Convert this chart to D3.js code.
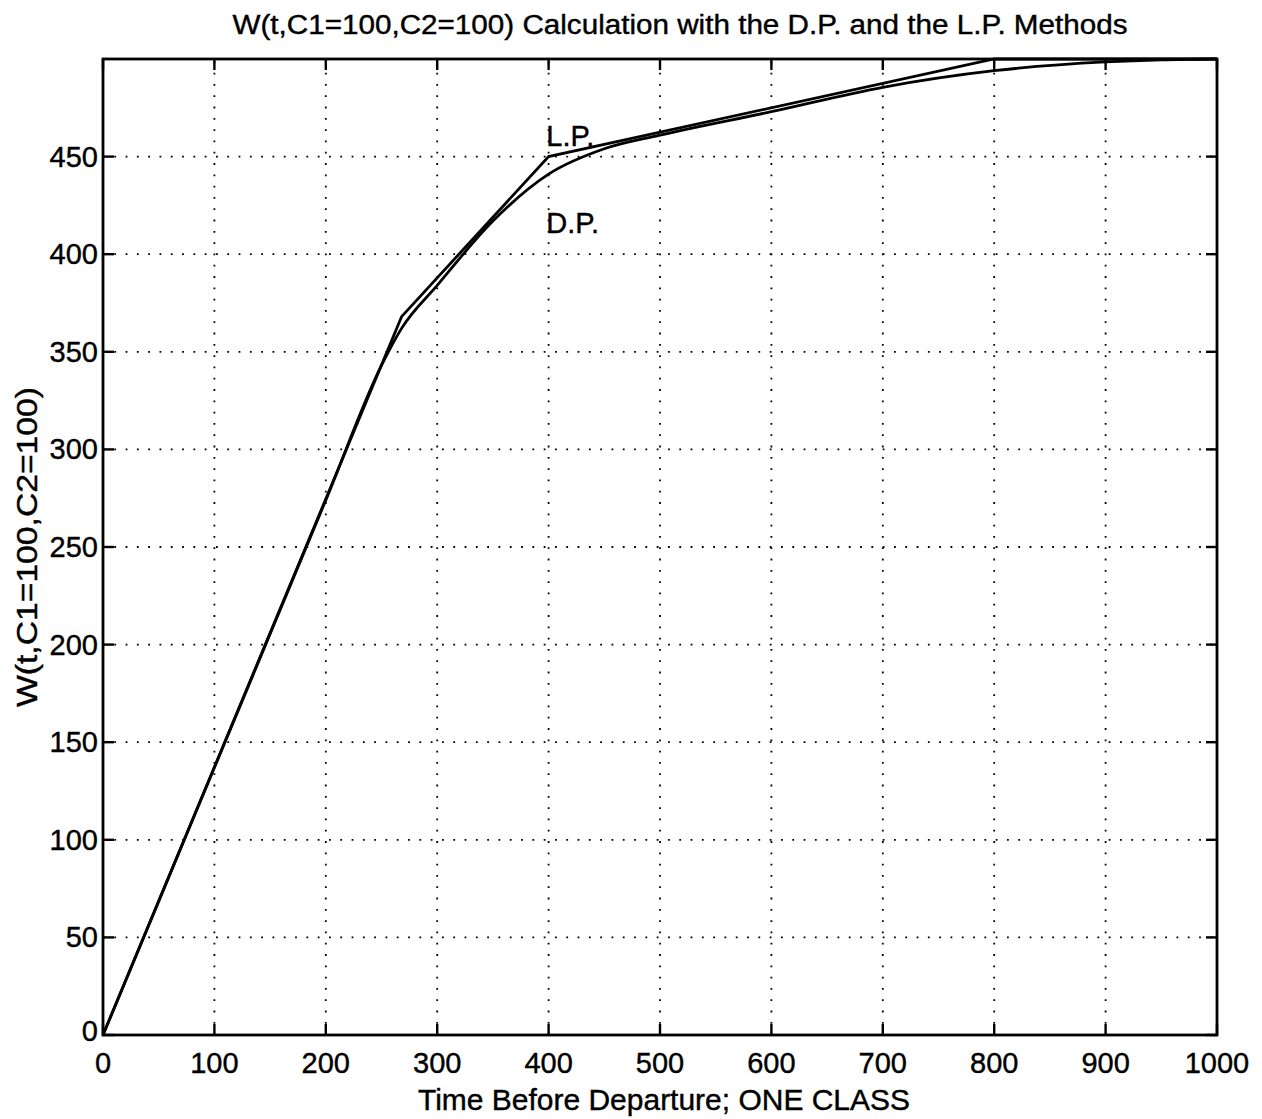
<!DOCTYPE html>
<html>
<head>
<meta charset="utf-8">
<script src="https://cdn.jsdelivr.net/npm/d3@7"></script>
<style>
  body { margin: 0; background: #fff; }
  svg { font-family: "Liberation Sans", Arial, Helvetica, sans-serif; }
  text { fill: #000; stroke: #000; stroke-width: 0.4px; }
</style>
</head>
<body>
<div id="chart"></div>
<script>
// L.P. method: piecewise linear
const lpT = [0, 268, 400, 800, 1000];
const lpW = [0, 368, 450, 500, 500];

// D.P. method: smooth curve
const dpT = [0, 100, 200, 250, 268, 300, 350, 400, 450, 500, 600, 700, 800, 900, 950, 1000];
const dpW = [0, 137, 274, 343, 362, 384, 417, 441, 454, 461, 473, 485.5, 494, 498.5, 499.6, 500];

const xTicks = [0, 100, 200, 300, 400, 500, 600, 700, 800, 900, 1000];
const yTicks = [0, 50, 100, 150, 200, 250, 300, 350, 400, 450];

const width = 1262, height = 1119;
const margin = { top: 59, right: 45, bottom: 84, left: 103 };

const svg = d3.select("#chart").append("svg")
  .attr("width", width)
  .attr("height", height);

const x = d3.scaleLinear().domain([0, 1000]).range([margin.left, width - margin.right]);
const y = d3.scaleLinear().domain([0, 500]).range([height - margin.bottom, margin.top]);

// grid
const grid = svg.append("g")
  .attr("stroke", "#000")
  .attr("stroke-width", 1.8)
  .attr("stroke-dasharray", "1.8,9.5");

grid.selectAll(".gx").data(xTicks.filter(d => d > 0 && d < 1000)).join("line")
  .attr("x1", d => x(d)).attr("x2", d => x(d))
  .attr("y1", y(0)).attr("y2", y(500));

grid.selectAll(".gy").data(yTicks.filter(d => d > 0)).join("line")
  .attr("y1", d => y(d)).attr("y2", d => y(d))
  .attr("x1", x(0)).attr("x2", x(1000));

// inward ticks on all four sides
const tickLen = 11;
const ticks = svg.append("g").attr("stroke", "#000").attr("stroke-width", 2.4);
xTicks.forEach(d => {
  ticks.append("line").attr("x1", x(d)).attr("x2", x(d)).attr("y1", y(0)).attr("y2", y(0) - tickLen);
  ticks.append("line").attr("x1", x(d)).attr("x2", x(d)).attr("y1", y(500)).attr("y2", y(500) + tickLen);
});
yTicks.forEach(d => {
  ticks.append("line").attr("y1", y(d)).attr("y2", y(d)).attr("x1", x(0)).attr("x2", x(0) + tickLen);
  ticks.append("line").attr("y1", y(d)).attr("y2", y(d)).attr("x1", x(1000)).attr("x2", x(1000) - tickLen);
});

// tick labels
svg.append("g").selectAll("text").data(xTicks).join("text")
  .attr("x", d => x(d))
  .attr("y", y(0) + 38)
  .attr("text-anchor", "middle")
  .attr("font-size", "29px")
  .text(d => d);

svg.append("g").selectAll("text").data(yTicks).join("text")
  .attr("x", x(0) - 5)
  .attr("y", d => y(d) + 10 - (d === 0 ? 4 : 0))
  .attr("text-anchor", "end")
  .attr("font-size", "29px")
  .text(d => d);

// curves
const line = d3.line().x(d => x(d[0])).y(d => y(d[1]));
const dpLine = d3.line().x(d => x(d[0])).y(d => y(d[1])).curve(d3.curveMonotoneX);

svg.append("path")
  .datum(lpT.map((t, i) => [t, lpW[i]]))
  .attr("fill", "none").attr("stroke", "#000").attr("stroke-width", 2.8)
  .attr("d", line);

svg.append("path")
  .datum(dpT.map((t, i) => [t, dpW[i]]))
  .attr("fill", "none").attr("stroke", "#000").attr("stroke-width", 2.8)
  .attr("d", dpLine);

// box
svg.append("rect")
  .attr("x", x(0)).attr("y", y(500))
  .attr("width", x(1000) - x(0)).attr("height", y(0) - y(500))
  .attr("fill", "none").attr("stroke", "#000").attr("stroke-width", 2.8);

// annotations
svg.append("text").attr("x", x(398)).attr("y", y(455.5)).attr("font-size", "29px").text("L.P.");
svg.append("text").attr("x", x(398)).attr("y", y(411)).attr("font-size", "29px").text("D.P.");

// title & labels
svg.append("text")
  .attr("x", 680)
  .attr("y", 34)
  .attr("text-anchor", "middle")
  .attr("font-size", "27px")
  .attr("textLength", 895)
  .attr("lengthAdjust", "spacingAndGlyphs")
  .text("W(t,C1=100,C2=100) Calculation with the D.P. and the L.P. Methods");

svg.append("text")
  .attr("x", 664)
  .attr("y", 1110)
  .attr("text-anchor", "middle")
  .attr("font-size", "29px")
  .attr("textLength", 492)
  .attr("lengthAdjust", "spacingAndGlyphs")
  .text("Time Before Departure; ONE CLASS");

svg.append("text")
  .attr("transform", `translate(37, ${(y(0) + y(500)) / 2}) rotate(-90)`)
  .attr("text-anchor", "middle")
  .attr("font-size", "29px")
  .attr("textLength", 320)
  .attr("lengthAdjust", "spacingAndGlyphs")
  .text("W(t,C1=100,C2=100)");
</script>
</body>
</html>
